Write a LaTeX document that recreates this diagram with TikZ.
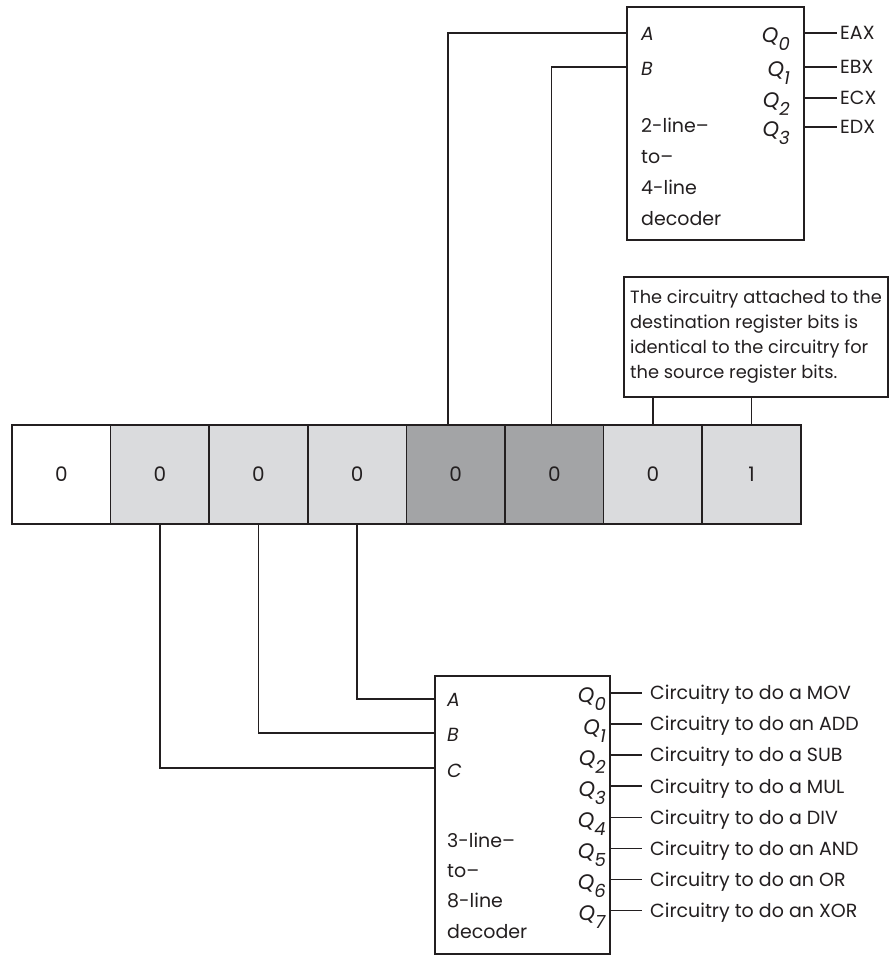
\documentclass[tikz,border=0pt]{standalone}
\usepackage{fontspec}
\setmainfont{Poppins}
\usepackage{xcolor}
\definecolor{ink}{RGB}{35,31,32}
\definecolor{bitLight}{RGB}{218,219,221}
\definecolor{bitDark}{RGB}{163,164,166}
\newcommand{\qpin}[1]{{\fontsize{21}{21}\selectfont\textit{Q}}\raisebox{-8pt}{\fontsize{18}{18}\selectfont\textit{#1}}}

\begin{document}
\begin{tikzpicture}[x=1pt,y=1pt,
    wire/.style={ink,line width=1.6pt},
    lbl/.style={text=ink,inner sep=0pt,font=\fontsize{19}{25}\selectfont},
    cell/.style={lbl,draw=ink,line width=1.6pt,minimum width=98.6pt,minimum height=99pt,font=\fontsize{20}{20}\selectfont},
    chip/.style={draw=ink,line width=1.6pt,inner sep=0pt},
    outlbl/.style={lbl,anchor=west,inner xsep=6pt,text height=13.5pt,text depth=0pt}]
  \fill[white] (0,0) rectangle (894,956);
  \useasboundingbox (0,0) rectangle (894,956);

  % register bits
  \foreach \v/\col [count=\i] in {0/white,0/bitLight,0/bitLight,0/bitLight,0/bitDark,0/bitDark,0/bitLight,1/bitLight}
    \node[cell,fill=\col] (c\i) at ({12+98.6*(\i-0.5)},481.5) {\v};

  % 2-line to 4-line decoder
  \node[chip,minimum width=177pt,minimum height=233pt] (dec2) at (715.5,832.5) {};
  \coordinate (dec2A) at (627,923);
  \coordinate (dec2B) at (627,889);
  \node[lbl,anchor=base west] (dec2a) at (641,915) {\textit{A}};
  \node[lbl,anchor=base west] (dec2b) at (641,880) {\textit{B}};
  \node[lbl,anchor=base west] (dec2t1) at (641,823) {2-line–};
  \node[lbl,anchor=base west] (dec2t2) at (641,792) {to–};
  \node[lbl,anchor=base west] (dec2t3) at (641,761) {4-line};
  \node[lbl,anchor=base west] (dec2t4) at (641,730) {decoder};
  \foreach \r/\y [count=\i from 0] in {EAX/923,EBX/889,ECX/858,EDX/829} {
    \coordinate (dec2q\i) at (804,\y);
    \node[outlbl,inner xsep=3pt] (reg\i) at (837,\y) {\r};
    \node[lbl,anchor=base east] (dec2Q\i) at (790,\y-10) {\qpin{\i}};
    \draw[wire] (dec2q\i) -- (reg\i.west);
  }
  \draw[wire] ([xshift=-8pt]c5.north) |- (dec2A);
  \draw[wire] ([xshift=-3pt]c6.north) |- (dec2B);

  % note
  \node[lbl,draw=ink,line width=1.6pt,minimum width=264pt,minimum height=120pt,align=left,
    font=\fontsize{17.8}{25}\selectfont] (note) at (756,619)
    {The circuitry attached to the\\destination register bits is\\identical to the circuitry for\\the source register bits.};
  \draw[wire] (c7.north) -- (c7.north |- note.south);
  \draw[wire] (c8.north) -- (c8.north |- note.south);

  % 3-line to 8-line decoder
  \node[chip,minimum width=175pt,minimum height=278pt] (dec3) at (522.5,141) {};
  \coordinate (dec3A) at (435,257);
  \coordinate (dec3B) at (435,223);
  \coordinate (dec3C) at (435,188);
  \node[lbl,anchor=base west] (dec3a) at (447,249) {\textit{A}};
  \node[lbl,anchor=base west] (dec3b) at (447,214) {\textit{B}};
  \node[lbl,anchor=base west] (dec3c) at (447,178) {\textit{C}};
  \node[lbl,anchor=base west] (dec3t1) at (447,108) {3-line–};
  \node[lbl,anchor=base west] (dec3t2) at (447,78) {to–};
  \node[lbl,anchor=base west] (dec3t3) at (447,48) {8-line};
  \node[lbl,anchor=base west] (dec3t4) at (447,17) {decoder};
  \foreach \op [count=\i from 0] in {a MOV,an ADD,a SUB,a MUL,a DIV,an AND,an OR,an XOR} {
    \coordinate (dec3q\i) at (610,{263-31.1*\i});
    \node[outlbl,inner xsep=8pt] (op\i) at (642,{263-31.1*\i}) {Circuitry to do \op};
    \node[lbl,anchor=base east] (dec3Q\i) at (606,{253-31.1*\i}) {\qpin{\i}};
    \draw[wire] (dec3q\i) -- (op\i.west);
  }
  \draw[wire] (c4.south) |- (dec3A);
  \draw[wire] (c3.south) |- (dec3B);
  \draw[wire] (c2.south) |- (dec3C);
\end{tikzpicture}
\end{document}
